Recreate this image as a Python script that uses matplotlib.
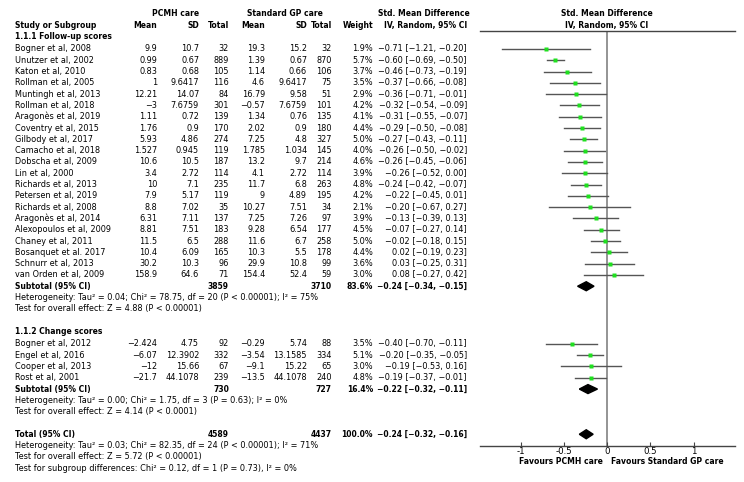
import matplotlib
matplotlib.use('agg')
import matplotlib.pyplot as plt

plt.rcParams['font.family'] = 'DejaVu Sans'

# ---- data ----
studies_1 = ["Bogner et al, 2008", "Unutzer et al, 2002", "Katon et al, 2010", "Rollman et al, 2005",
             "Muntingh et al, 2013", "Rollman et al, 2018", "Aragonès et al, 2019", "Coventry et al, 2015",
             "Gilbody et al, 2017", "Camacho et al, 2018", "Dobscha et al, 2009", "Lin et al, 2000",
             "Richards et al, 2013", "Petersen et al, 2019", "Richards et al, 2008", "Aragonès et al, 2014",
             "Alexopoulos et al, 2009", "Chaney et al, 2011", "Bosanquet et al. 2017", "Schnurr et al, 2013",
             "van Orden et al, 2009"]
pcmh_mean_1 = ["9.9", "0.99", "0.83", "1", "12.21", "−3", "1.11", "1.76", "5.93", "1.527", "10.6", "3.4",
               "10", "7.9", "8.8", "6.31", "8.81", "11.5", "10.4", "30.2", "158.9"]
pcmh_sd_1 = ["10.7", "0.67", "0.68", "9.6417", "14.07", "7.6759", "0.72", "0.9", "4.86", "0.945", "10.5",
             "2.72", "7.1", "5.17", "7.02", "7.11", "7.51", "6.5", "6.09", "10.3", "64.6"]
pcmh_n_1 = [32, 889, 105, 116, 84, 301, 139, 170, 274, 119, 187, 114, 235, 119, 35, 137, 183, 288, 165, 96, 71]
gp_mean_1 = ["19.3", "1.39", "1.14", "4.6", "16.79", "−0.57", "1.34", "2.02", "7.25", "1.785", "13.2", "4.1",
             "11.7", "9", "10.27", "7.25", "9.28", "11.6", "10.3", "29.9", "154.4"]
gp_sd_1 = ["15.2", "0.67", "0.66", "9.6417", "9.58", "7.6759", "0.76", "0.9", "4.8", "1.034", "9.7", "2.72",
           "6.8", "4.89", "7.51", "7.26", "6.54", "6.7", "5.5", "10.8", "52.4"]
gp_n_1 = [32, 870, 106, 75, 51, 101, 135, 180, 327, 145, 214, 114, 263, 195, 34, 97, 177, 258, 178, 99, 59]
weight_1 = [1.9, 5.7, 3.7, 3.5, 2.9, 4.2, 4.1, 4.4, 5.0, 4.0, 4.6, 3.9, 4.8, 4.2, 2.1, 3.9, 4.5, 5.0, 4.4, 3.6, 3.0]
smd_1 = [-0.71, -0.60, -0.46, -0.37, -0.36, -0.32, -0.31, -0.29, -0.27, -0.26, -0.26, -0.26, -0.24, -0.22,
         -0.20, -0.13, -0.07, -0.02, 0.02, 0.03, 0.08]
lo_1 = [-1.21, -0.69, -0.73, -0.66, -0.71, -0.54, -0.55, -0.50, -0.43, -0.50, -0.45, -0.52, -0.42, -0.45,
        -0.67, -0.39, -0.27, -0.18, -0.19, -0.25, -0.27]
hi_1 = [-0.20, -0.50, -0.19, -0.08, -0.01, -0.09, -0.07, -0.08, -0.11, -0.02, -0.06, 0.00, -0.07, 0.01,
        0.27, 0.13, 0.14, 0.15, 0.23, 0.31, 0.42]

studies_2 = ["Bogner et al, 2012", "Engel et al, 2016", "Cooper et al, 2013", "Rost et al, 2001"]
pcmh_mean_2 = ["−2.424", "−6.07", "−12", "−21.7"]
pcmh_sd_2 = ["4.75", "12.3902", "15.66", "44.1078"]
pcmh_n_2 = [92, 332, 67, 239]
gp_mean_2 = ["−0.29", "−3.54", "−9.1", "−13.5"]
gp_sd_2 = ["5.74", "13.1585", "15.22", "44.1078"]
gp_n_2 = [88, 334, 65, 240]
weight_2 = [3.5, 5.1, 3.0, 4.8]
smd_2 = [-0.40, -0.20, -0.19, -0.19]
lo_2 = [-0.70, -0.35, -0.53, -0.37]
hi_2 = [-0.11, -0.05, 0.16, -0.01]

sub_smd = [-0.24, -0.22]
sub_lo = [-0.34, -0.32]
sub_hi = [-0.15, -0.11]
sub_n_pcmh = [3859, 730]
sub_n_gp = [3710, 727]
sub_weight = [83.6, 16.4]
tot_smd, tot_lo, tot_hi = -0.24, -0.32, -0.16
tot_n_pcmh, tot_n_gp = 4589, 4437

het_1 = "Heterogeneity: Tau² = 0.04; Chi² = 78.75, df = 20 (P < 0.00001); I² = 75%"
eff_1 = "Test for overall effect: Z = 4.88 (P < 0.00001)"
het_2 = "Heterogeneity: Tau² = 0.00; Chi² = 1.75, df = 3 (P = 0.63); I² = 0%"
eff_2 = "Test for overall effect: Z = 4.14 (P < 0.0001)"
het_t = "Heterogeneity: Tau² = 0.03; Chi² = 82.35, df = 24 (P < 0.00001); I² = 71%"
eff_t = "Test for overall effect: Z = 5.72 (P < 0.00001)"
sub_t = "Test for subgroup differences: Chi² = 0.12, df = 1 (P = 0.73), I² = 0%"

ticks = [-1, -0.5, 0, 0.5, 1]
tick_labels = ["-1", "-0.5", "0", "0.5", "1"]


def fmt(v):
    s = "%.2f" % v
    return s.replace("-", "−")


def ci_text(e, l, h):
    return "%s [%s, %s]" % (fmt(e), fmt(l), fmt(h))


# ---- layout (pixel units) ----
W, H = 744, 482
fs = 5.9
fs_bold = 5.5
pitch = 11.3
x_name = 15
x_cols = [157, 199, 229, 265, 307, 332, 373, 467]
x0_pix, px_per_unit = 607, 86.5
plot_left, plot_right, plot_top = 480, 735, 31

fig = plt.figure(figsize=(W / 100, H / 100), dpi=100)
ax_t = fig.add_axes([0, 0, 1, 1])
ax_t.set_xlim(0, W)
ax_t.set_ylim(H, 0)
ax_t.axis('off')


def put(x, y, s, ha='left', bold=False):
    ax_t.text(x, y, s, ha=ha, va='center', fontsize=fs_bold if bold else fs,
              fontweight='bold' if bold else 'normal', color='black')


# headers
put(176, 14, "PCMH care", ha='center', bold=True)
put(285, 14, "Standard GP care", ha='center', bold=True)
put(424, 14, "Std. Mean Difference", ha='center', bold=True)
put(607, 14, "Std. Mean Difference", ha='center', bold=True)
put(x_name, 25.5, "Study or Subgroup", bold=True)
for x, s in zip(x_cols[:6], ["Mean", "SD", "Total", "Mean", "SD", "Total"]):
    put(x, 25.5, s, ha='right', bold=True)
put(x_cols[6], 25.5, "Weight", ha='right', bold=True)
put(426, 25.5, "IV, Random, 95% CI", ha='center', bold=True)
put(607, 25.5, "IV, Random, 95% CI", ha='center', bold=True)

# rows
y = 36.5
rows_study = []   # (y, smd, lo, hi)
rows_diamond = []


def group(title, names, m1, s1, n1, m2, s2, n2, w, e, l, h, gi, het, eff):
    global y
    put(x_name, y, title, bold=True)
    y += pitch * 1.1
    for i in range(len(names)):
        put(x_name, y, names[i])
        vals = [m1[i], s1[i], str(n1[i]), m2[i], s2[i], str(n2[i]), "%.1f%%" % w[i], ci_text(e[i], l[i], h[i])]
        for x, s in zip(x_cols, vals):
            put(x, y, s, ha='right')
        rows_study.append((y, e[i], l[i], h[i]))
        y += pitch
    put(x_name, y, "Subtotal (95% CI)", bold=True)
    put(x_cols[2], y, str(sub_n_pcmh[gi]), ha='right', bold=True)
    put(x_cols[5], y, str(sub_n_gp[gi]), ha='right', bold=True)
    put(x_cols[6], y, "%.1f%%" % sub_weight[gi], ha='right', bold=True)
    put(x_cols[7], y, ci_text(sub_smd[gi], sub_lo[gi], sub_hi[gi]), ha='right', bold=True)
    rows_diamond.append((y, sub_smd[gi], sub_lo[gi], sub_hi[gi]))
    y += pitch
    put(x_name, y, het)
    y += pitch
    put(x_name, y, eff)
    y += pitch * 2


group("1.1.1 Follow-up scores", studies_1, pcmh_mean_1, pcmh_sd_1, pcmh_n_1, gp_mean_1, gp_sd_1, gp_n_1,
      weight_1, smd_1, lo_1, hi_1, 0, het_1, eff_1)
group("1.1.2 Change scores", studies_2, pcmh_mean_2, pcmh_sd_2, pcmh_n_2, gp_mean_2, gp_sd_2, gp_n_2,
      weight_2, smd_2, lo_2, hi_2, 1, het_2, eff_2)

put(x_name, y, "Total (95% CI)", bold=True)
put(x_cols[2], y, str(tot_n_pcmh), ha='right', bold=True)
put(x_cols[5], y, str(tot_n_gp), ha='right', bold=True)
put(x_cols[6], y, "100.0%", ha='right', bold=True)
put(x_cols[7], y, ci_text(tot_smd, tot_lo, tot_hi), ha='right', bold=True)
rows_diamond.append((y, tot_smd, tot_lo, tot_hi))
y += pitch
y_axis = y
put(x_name, y, het_t)
y += pitch
put(x_name, y, eff_t)
y += pitch
put(x_name, y, sub_t)
put(x0_pix - 4, y_axis + 16, "Favours PCMH care", ha='right', bold=True)
put(x0_pix + 4, y_axis + 16, "Favours Standard GP care", ha='left', bold=True)

# ---- forest panel ----
ax_f = fig.add_axes([plot_left / W, 1 - y_axis / H, (plot_right - plot_left) / W, (y_axis - plot_top) / H])
ax_f.set_xlim((plot_left - x0_pix) / px_per_unit, (plot_right - x0_pix) / px_per_unit)
ax_f.set_ylim(y_axis, plot_top)
ax_f.patch.set_visible(False)
for side in ['left', 'right']:
    ax_f.spines[side].set_visible(False)
for side in ['top', 'bottom']:
    ax_f.spines[side].set_color('#444444')
    ax_f.spines[side].set_linewidth(1.0)
ax_f.set_yticks([])
ax_f.set_xticks(ticks)
ax_f.set_xticklabels(tick_labels)
ax_f.tick_params(axis='x', direction='in', length=3, width=0.8, color='#444444',
                 labelsize=fs + 0.3, pad=1)
ax_f.axvline(0, color='#777777', lw=1.1, zorder=1)

for yy, e, l, h in rows_study:
    ax_f.plot([l, h], [yy, yy], color='#555555', lw=1.0, zorder=2)
    ax_f.plot(e, yy, 's', ms=2.4, color='#1fe01f', mec='none', zorder=3)
for yy, e, l, h in rows_diamond:
    ax_f.fill([l, e, h, e], [yy, yy - 4.5, yy, yy + 4.5], color='black', zorder=3)

plt.savefig('out.png', dpi=100)
